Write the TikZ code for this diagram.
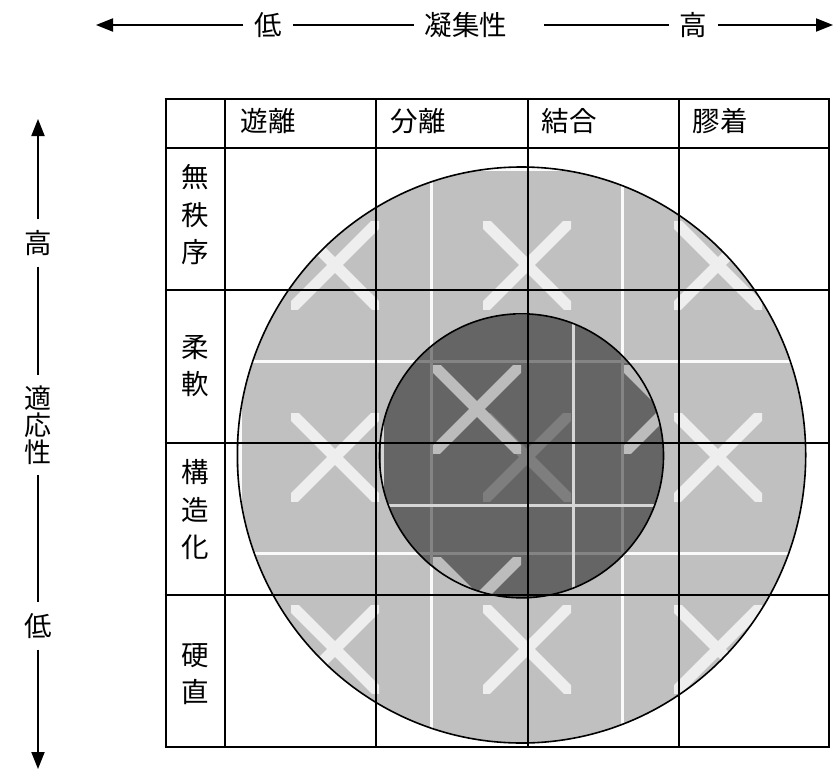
\documentclass[tikz,border=0pt]{standalone}
\usepackage{fontspec}
\newfontfamily\jp{Noto Sans CJK JP}
\usetikzlibrary{arrows.meta}
\definecolor{lightfill}{RGB}{192,192,192}
\definecolor{xlight}{RGB}{238,238,238}
\definecolor{linelight}{RGB}{250,250,250}
\definecolor{xdark}{RGB}{188,188,188}
\definecolor{linedark}{RGB}{214,214,214}
\begin{document}
\begin{tikzpicture}[x=1pt,y=-1pt,
  lab/.style={font=\jp\fontsize{27.5}{30}\selectfont, inner sep=0pt, outer sep=0pt},
  axlab/.style={lab, inner sep=11pt},
  rowlab/.style={lab, align=center, font=\jp\fontsize{27.5}{37.5}\selectfont},
  gridline/.style={line width=2pt, black},
  axisline/.style={line width=1.8pt, black},
  tipend/.style={-{Triangle[length=17pt,width=13pt]}},
  ring/.style={line width=1.6pt, black},
  patline/.style={line width=3pt},
  xmark/.pic={\begin{scope}\clip (-44,-44) rectangle (44,44);
     \draw[line width=11pt] (-60,-60) -- (60,60) (-60,60) -- (60,-60);\end{scope}}]
\useasboundingbox (0,0) rectangle (834,776);

% ---- big light circle with its pattern
\begin{scope}
  \clip (521.5,455) ellipse [x radius=284.2, y radius=288];
  \fill[lightfill] (521.5,455) ellipse [x radius=284.2, y radius=288];
  \foreach \xx in {240,431,622.5,813} \draw[patline,linelight] (\xx,150) -- (\xx,760);
  \foreach \yy in {169.5,361,553,745} \draw[patline,linelight] (220,\yy) -- (820,\yy);
  \foreach \xx in {335,527,718} \foreach \yy in {265,457,649}
     \pic[color=xlight] at (\xx,\yy) {xmark};
  % ---- small dark circle
  \begin{scope}
    \clip (521.5,455.8) circle [radius=142];
    \fill[black, opacity=0.47] (521.5,455.8) circle [radius=142];
    \foreach \xx in {382,573} \draw[patline,linedark] (\xx,300) -- (\xx,610);
    \foreach \yy in {313,505} \draw[patline,linedark] (370,\yy) -- (680,\yy);
    \foreach \xx in {477,668} \foreach \yy in {409,601}
       \pic[color=xdark] at (\xx,\yy) {xmark};
  \end{scope}
\end{scope}
\draw[ring] (521.5,455) ellipse [x radius=284.2, y radius=288];
\draw[ring] (521.5,455.8) circle [radius=142];

% ---- table grid
\foreach \xx in {165.5,224.5,376,528,679,829.3} \draw[gridline] (\xx,99) -- (\xx,747.3);
\foreach \yy in {99,148,290,442.7,595,747.3} \draw[gridline] (164.5,\yy) -- (830.3,\yy);

% ---- column headers
\node[lab, anchor=west] (c1) at (240.5,121.5) {遊離};
\node[lab, anchor=west] (c2) at (390.5,121.5) {分離};
\node[lab, anchor=west] (c3) at (541.5,121.5) {結合};
\node[lab, anchor=west] (c4) at (692.5,121.5) {膠着};

% ---- row headers
\node[rowlab] (r1) at (195.5,215) {無\\秩\\序};
\node[rowlab] (r2) at (195.5,366) {柔\\軟};
\node[rowlab] (r3) at (195.5,510) {構\\造\\化};
\node[rowlab] (r4) at (195.5,674) {硬\\直};

% ---- horizontal axis
\coordinate (hL) at (96,25);
\coordinate (hR) at (833,25);
\node[axlab] (hlow) at (268,25) {低};
\node[axlab] (hmid) at (466,25) {凝集性};
\node[axlab] (hhigh) at (693.5,25) {高};
\draw[axisline,tipend] (hlow) -- (hL);
\draw[axisline] (hlow) -- (hmid);
\draw[axisline, shorten <=26pt] (hmid) -- (hhigh);
\draw[axisline,tipend] (hhigh) -- (hR);

% ---- vertical axis
\coordinate (vT) at (38,119);
\coordinate (vB) at (38,769);
\node[axlab] (vhigh) at (38,243) {高};
\node[axlab, align=center, font=\jp\fontsize{27}{27}\selectfont] (vmid) at (38,425) {適\\応\\性};
\node[axlab] (vlow) at (38,626) {低};
\draw[axisline,tipend] (vhigh) -- (vT);
\draw[axisline] (vhigh) -- (vmid);
\draw[axisline] (vmid) -- (vlow);
\draw[axisline,tipend] (vlow) -- (vB);
\end{tikzpicture}
\end{document}
